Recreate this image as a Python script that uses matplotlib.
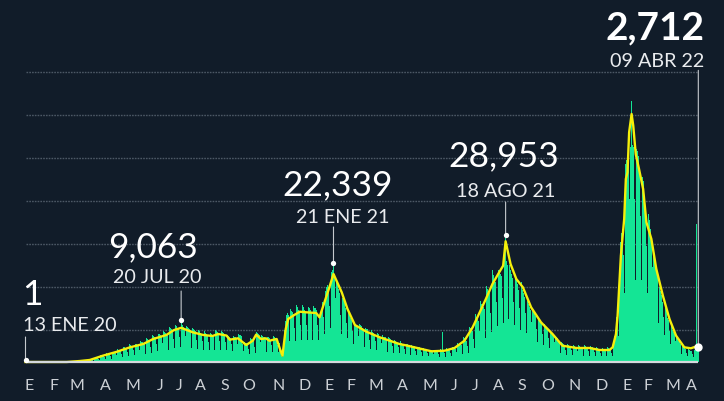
import numpy as np
import pandas as pd
import matplotlib
matplotlib.use('Agg')
import matplotlib.pyplot as plt
from matplotlib.transforms import offset_copy
from matplotlib.lines import Line2D

# Daily new cases (hundreds), one row per week Mon..Sun, from 13 Jan 2020
weekly_rows = [
    [0.01, 0, 0, 0, 0, 0, 0], [0, 0, 0, 0, 0, 0, 0], [0, 0, 0, 0, 0, 0, 0],
    [0, 0, 0, 0, 0, 0, 0], [0, 0, 0, 0, 0, 0, 0], [0, 0, 0, 0, 0, 0, 0],
    [0, 0, 0, 0, 0, 0, 0], [0, 0, 0, 0, 0.1, 0.1, 0], [1, 1, 1, 1, 1, 1, 0.5],
    [2, 3, 3, 3, 2, 2, 1], [4, 4, 4, 4, 3, 3, 2], [6, 6, 5, 5, 5, 4, 2],
    [10, 10, 10, 10, 9, 7, 4], [16, 16, 15, 15, 14, 11, 6], [20, 19, 19, 18, 18, 13, 8],
    [25, 24, 24, 23, 22, 16, 10], [30, 29, 28, 27, 26, 19, 12], [35, 34, 33, 32, 31, 23, 14],
    [41, 39, 39, 37, 36, 27, 16], [44, 42, 42, 40, 39, 29, 17], [48, 46, 46, 44, 42, 31, 19],
    [55, 53, 52, 50, 48, 36, 21], [63, 61, 60, 57, 55, 41, 25], [67, 65, 64, 62, 59, 44, 26],
    [72, 69, 68, 65, 63, 47, 28], [81, 78, 77, 74, 71, 53, 32], [87, 83, 82, 79, 76, 57, 34],
    [90.63, 87, 85, 82, 79, 60, 36], [84, 81, 80, 77, 74, 55, 33], [79, 76, 75, 72, 69, 52, 31],
    [75, 72, 71, 68, 65, 49, 29], [71, 68, 68, 65, 62, 47, 28], [70, 67, 66, 63, 61, 46, 27],
    [74, 71, 70, 67, 64, 48, 29], [72, 69, 68, 66, 63, 47, 28], [63, 60, 60, 57, 55, 41, 25],
    [62, 60, 59, 57, 54, 41, 24], [66, 63, 62, 60, 57, 43, 26], [47, 45, 44, 43, 41, 31, 18],
    [55, 53, 52, 50, 48, 36, 21], [72, 69, 68, 66, 63, 47, 28], [62, 60, 59, 57, 54, 41, 24],
    [59, 57, 56, 54, 51, 39, 23], [60, 58, 57, 55, 52, 39, 24], [45, 35, 20, 14, 12, 30, 40],
    [75, 95, 110, 115, 110, 85, 50], [123, 118, 117, 112, 107, 80, 48], [132, 127, 126, 121, 115, 86, 52],
    [133, 128, 127, 122, 116, 87, 52], [132, 127, 126, 121, 115, 86, 52], [131, 125, 125, 120, 114, 85, 51],
    [110, 105, 120, 130, 140, 105, 65], [165, 170, 175, 180, 175, 130, 80], [200, 210, 215, 223.39, 205, 150, 90],
    [185, 180, 170, 160, 150, 110, 65], [150, 145, 140, 130, 125, 90, 55], [118, 112, 108, 102, 98, 72, 43],
    [95, 90, 88, 85, 82, 60, 36], [88, 85, 84, 80, 77, 58, 35], [80, 77, 76, 73, 70, 52, 31],
    [74, 70, 70, 67, 64, 48, 29], [67, 64, 64, 61, 59, 44, 26], [62, 59, 59, 57, 54, 40, 24],
    [57, 55, 54, 52, 50, 37, 22], [52, 50, 49, 47, 45, 34, 20], [48, 45, 45, 43, 41, 31, 19],
    [44, 42, 41, 40, 38, 28, 17], [40, 38, 38, 37, 35, 26, 16], [36, 35, 34, 33, 31, 24, 14],
    [33, 31, 31, 30, 29, 21, 13], [29, 28, 28, 27, 26, 19, 12], [29, 28, 27, 26, 25, 19, 11],
    [30, 29, 70, 27, 26, 20, 12], [32, 31, 30, 29, 28, 21, 13], [36, 35, 34, 33, 31, 24, 14],
    [45, 43, 43, 41, 40, 30, 18], [57, 55, 54, 52, 50, 37, 22], [82, 78, 77, 74, 71, 53, 32],
    [111, 106, 104, 100, 96, 72, 43], [143, 136, 134, 129, 124, 93, 56], [176, 169, 166, 160, 154, 115, 69],
    [213, 203, 200, 192, 185, 139, 83], [215, 210, 208, 205, 200, 150, 90], [230, 240, 289.53, 235, 225, 165, 100],
    [225, 215, 205, 195, 185, 140, 85], [200, 190, 182, 175, 168, 125, 75], [185, 175, 168, 160, 152, 115, 68],
    [150, 142, 135, 128, 122, 92, 55], [125, 118, 112, 108, 102, 76, 46], [104, 100, 96, 92, 88, 66, 40],
    [88, 84, 80, 77, 74, 55, 33], [72, 69, 66, 64, 61, 46, 27], [60, 57, 55, 52, 50, 38, 22],
    [46, 44, 42, 40, 38, 29, 17], [42, 40, 39, 37, 36, 27, 16], [40, 38, 37, 35, 34, 25, 15],
    [39, 37, 36, 35, 33, 25, 15], [39, 37, 36, 35, 33, 25, 15], [38, 36, 35, 34, 32, 24, 14],
    [35, 33, 32, 31, 29, 22, 13], [34, 32, 31, 30, 28, 21, 13], [34, 32, 31, 30, 29, 22, 14],
    [50, 60, 75, 90, 105, 95, 60], [180, 230, 280, 300, 310, 250, 160], [440, 460, 470, 480, 490, 380, 230],
    [500, 608, 505, 500, 495, 380, 190], [495, 490, 480, 470, 450, 340, 190], [430, 420, 400, 380, 350, 270, 160],
    [340, 345, 330, 310, 290, 220, 130], [250, 240, 230, 215, 200, 150, 90], [175, 165, 155, 148, 140, 105, 62],
    [125, 118, 110, 103, 97, 72, 43], [85, 80, 75, 70, 65, 48, 29], [58, 54, 50, 46, 42, 32, 19],
    [38, 35, 33, 31, 29, 22, 13], [30, 28, 27, 26, 25, 19, 11], [28, 108, 27, 320, 26, 27.12],
]

# smoothed curve (yellow), read at key dates
avg_dates = ['2020-01-13', '2020-03-03', '2020-03-19', '2020-03-31', '2020-04-16', '2020-05-02',
             '2020-05-19', '2020-06-04', '2020-06-16', '2020-07-02', '2020-07-11', '2020-07-20',
             '2020-08-03', '2020-08-16', '2020-08-27', '2020-09-03', '2020-09-13', '2020-09-17',
             '2020-09-27', '2020-10-07', '2020-10-15', '2020-10-19', '2020-10-25', '2020-10-31',
             '2020-11-04', '2020-11-13', '2020-11-17', '2020-11-20', '2020-11-24', '2020-11-27',
             '2020-12-03', '2020-12-11', '2020-12-19', '2020-12-31', '2021-01-04', '2021-01-10',
             '2021-01-16', '2021-01-21', '2021-01-31', '2021-02-07', '2021-02-16', '2021-03-02',
             '2021-03-18', '2021-04-11', '2021-04-21', '2021-05-08', '2021-05-20', '2021-06-05',
             '2021-06-17', '2021-06-29', '2021-07-09', '2021-07-17', '2021-07-25', '2021-08-02',
             '2021-08-09', '2021-08-15', '2021-08-18', '2021-08-24', '2021-08-31', '2021-09-08',
             '2021-09-18', '2021-09-30', '2021-10-14', '2021-10-26', '2021-11-12', '2021-11-28',
             '2021-12-10', '2021-12-22', '2021-12-26', '2021-12-30', '2022-01-01', '2022-01-05',
             '2022-01-09', '2022-01-11', '2022-01-13', '2022-01-15', '2022-01-18', '2022-01-20',
             '2022-01-23', '2022-01-27', '2022-02-01', '2022-02-05', '2022-02-11', '2022-02-17',
             '2022-02-25', '2022-03-05', '2022-03-13', '2022-03-23', '2022-03-31', '2022-04-09']
avg_values = [0, 0, 230, 470, 1470, 2330,
              3420, 4190, 5350, 6280, 7400, 7950,
              6910, 6280, 6050, 6510, 6160, 5190,
              5510, 3950, 4950, 6350, 5350, 5510,
              4950, 5350, 3020, 1470, 7680, 10000,
              10770, 11700, 11560, 11400, 10400, 13890,
              17380, 20470, 16210, 12330, 8610, 7050,
              5750, 4190, 3790, 3020, 2490, 2630,
              3260, 4950, 8070, 11330, 14650, 18140,
              20470, 22400, 28080, 22800, 19310, 17380,
              12720, 9230, 6510, 3790, 3260, 3260,
              2790, 2790, 3420, 6510, 10770, 24730,
              33260, 42570, 44120, 53430, 57690, 54960,
              48380, 44890, 40240, 32490, 28610, 21630,
              15420, 10000, 6120, 3420, 3190, 3790]

ann_dates = ['2020-01-13', '2020-07-20', '2021-01-21', '2021-08-18', '2022-04-09']
ann_labels = ['13 ENE 20', '20 JUL 20', '21 ENE 21', '18 AGO 21', '09 ABR 22']

month_labels = ['E', 'F', 'M', 'A', 'M', 'J', 'J', 'A', 'S', 'O', 'N', 'D',
                'E', 'F', 'M', 'A', 'M', 'J', 'J', 'A', 'S', 'O', 'N', 'D',
                'E', 'F', 'M', 'A']
month_ticks = ['2020-01-18', '2020-02-16', '2020-03-15', '2020-04-19', '2020-05-23', '2020-06-24',
               '2020-07-17', '2020-08-12', '2020-09-11', '2020-10-10', '2020-11-15', '2020-12-17',
               '2021-01-16', '2021-02-11', '2021-03-13', '2021-04-15', '2021-05-18', '2021-06-17',
               '2021-07-12', '2021-08-09', '2021-09-07', '2021-10-08', '2021-11-10', '2021-12-12',
               '2022-01-12', '2022-02-07', '2022-03-09', '2022-04-01']

grid_levels = [7500, 17500, 27500, 37500, 47500, 57500, 67500]

cases = pd.Series([v * 100 for row in weekly_rows for v in row],
                  index=pd.date_range('2020-01-13', periods=sum(len(r) for r in weekly_rows), freq='D'))

bg = '#111c29'
green = '#14e595'
yellow = '#f5ef0a'
txt = '#e9ebee'
grey = '#c5c9ce'
plt.rcParams['font.family'] = ['Lato', 'DejaVu Sans']

fig = plt.figure(figsize=(7.24, 4.02), dpi=100, facecolor=bg)
ax = fig.add_axes([0, 0, 1, 1])
ax.set_facecolor(bg)
ax.axis('off')

start, end = cases.index[0], cases.index[-1]
ax.set_xlim(start - pd.Timedelta(days=30.97), start + pd.Timedelta(days=848.2))
ax.set_ylim(-9071, 84434)

ax.hlines(grid_levels, start, end, colors='#4c5865', linestyles=(0, (1.2, 0.8)), linewidth=1.0, zorder=1)
ax.bar(cases.index, cases.values, width=1.0, color=green, linewidth=0, zorder=2)
ax.plot(pd.to_datetime(avg_dates), avg_values, color=yellow, lw=1.7, zorder=4, solid_joinstyle='round')
ax.hlines(0, start, end, colors='#d5d9dd', linewidth=1.6, zorder=5)

# per annotation, in pixels: dot lift, leader top, date dx, date baseline, number dx, number baseline, align
layout = [
    (1.5, 25, -2.5, 32, -3, 58, 'left'),
    (3, 32, -24, 40.7, -28, 67, 'center'),
    (3, 39, 9.5, 44.3, 4.5, 72, 'center'),
    (3, 35.5, 0.4, 41.8, -1.6, 71.8, 'center'),
    (3.8, 280, 5.5, 284.6, 6.5, 312, 'right'),
]
px = 72 / fig.dpi
for i, (d, lab) in enumerate(zip(ann_dates, ann_labels)):
    t = pd.Timestamp(d)
    v = cases[t]
    lift, top, ddx, dby, ndx, nby, ha = layout[i]
    last = i == len(ann_dates) - 1
    ax.annotate('', xy=(t, v), xytext=(0, top * px), textcoords='offset points',
                arrowprops=dict(arrowstyle='-', color=grey, lw=0.8, shrinkA=0, shrinkB=lift * px),
                zorder=6)
    ax.plot([t], [v], 'o', color='white', ms=6.0 if last else 3.8, mec='none', zorder=7,
            transform=offset_copy(ax.transData, fig, y=lift, units='dots'), clip_on=False)
    ax.text(t, v, lab, ha=ha, va='baseline', fontsize=14.2, color=txt,
            transform=offset_copy(ax.transData, fig, x=ddx, y=dby, units='dots'))
    ax.text(t, v, f'{v:,.0f}', ha=ha, va='baseline', fontsize=28 if last else 25.5, color='white',
            fontweight='bold' if last else 'normal',
            transform=offset_copy(ax.transData, fig, x=ndx, y=nby, units='dots'))

for lab, d in zip(month_labels, month_ticks):
    ax.text(pd.Timestamp(d), 0, lab, ha='center', va='baseline', fontsize=11.5, color='#cdd1d6',
            transform=offset_copy(ax.transData, fig, y=-27, units='dots'))

fig.add_artist(Line2D([0, 1], [0.999, 0.999], color='#6e7883', lw=1.2))
fig.savefig('out.png', dpi=100, facecolor=bg)
